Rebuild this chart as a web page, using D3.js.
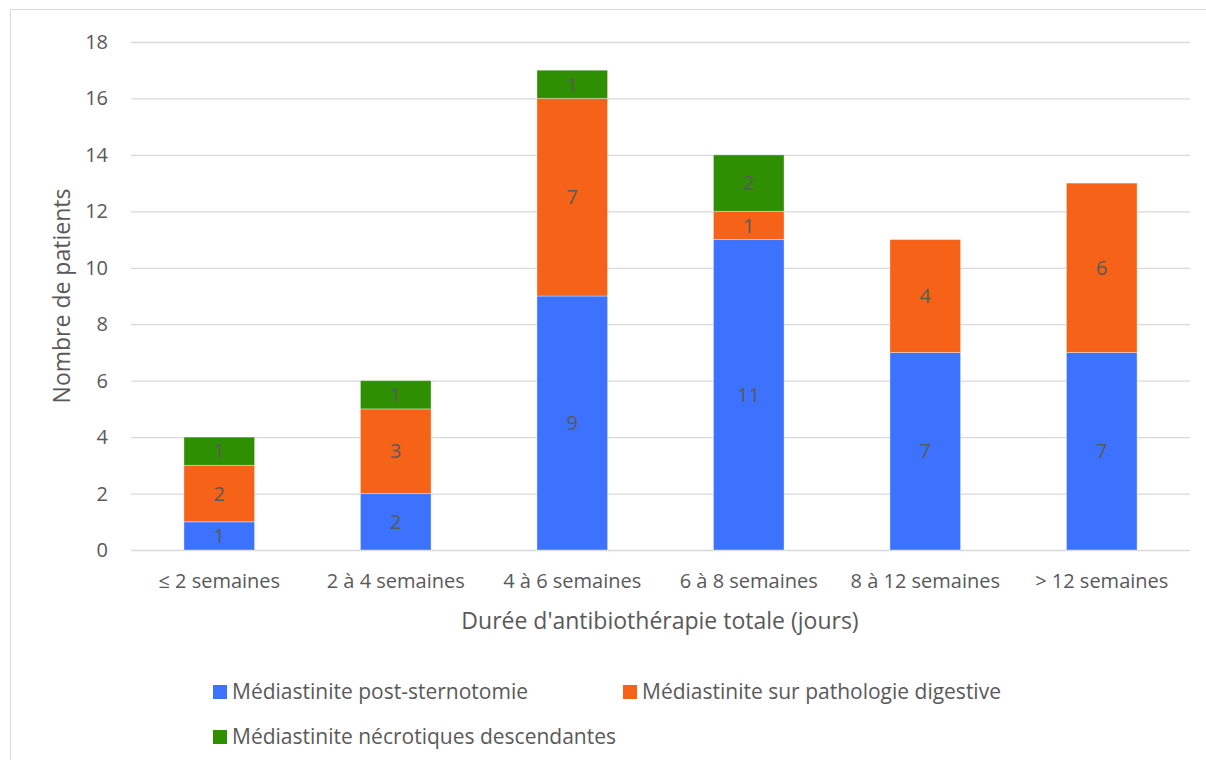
<!DOCTYPE html>
<html>
<head>
<meta charset="utf-8">
<script src="https://cdn.jsdelivr.net/npm/d3@7"></script>
<style>
  html, body { margin: 0; padding: 0; background: #fff; }
  svg { display: block; }
  text { font-family: "Open Sans", sans-serif; fill: #595959; }
</style>
</head>
<body>
<svg id="chart" width="1206" height="760"></svg>
<script>
// Durée d'antibiothérapie totale par type de médiastinite
const categories = ["≤ 2 semaines", "2 à 4 semaines", "4 à 6 semaines", "6 à 8 semaines", "8 à 12 semaines", "> 12 semaines"];
const seriesNames = ["Médiastinite post-sternotomie", "Médiastinite sur pathologie digestive", "Médiastinite nécrotiques descendantes"];
const postSternotomie = [1, 2, 9, 11, 7, 7];
const pathologieDigestive = [2, 3, 7, 1, 4, 6];
const necrotiquesDescendantes = [1, 1, 1, 2, 0, 0];
const yTicks = [0, 2, 4, 6, 8, 10, 12, 14, 16, 18];
const colors = ["#3D72FE", "#F66318", "#2E8F02"];

const svg = d3.select("#chart");

// outer frame
svg.append("rect").attr("x", 10.5).attr("y", 9.5).attr("width", 1210).attr("height", 760)
  .attr("fill", "none").attr("stroke", "#d9d9d9").attr("stroke-width", 1);

const margin = { left: 131, right: 1190, top: 42, bottom: 550 };
const x = d3.scaleBand().domain(categories).range([margin.left, margin.right]).paddingInner(0.6).paddingOuter(0.3);
const y = d3.scaleLinear().domain([0, 18]).range([margin.bottom, margin.top]);

// gridlines
svg.append("g").selectAll("line").data(yTicks).join("line")
  .attr("x1", margin.left).attr("x2", margin.right)
  .attr("y1", d => y(d) + 0.5).attr("y2", d => y(d) + 0.5)
  .attr("stroke", "#d9d9d9").attr("stroke-width", 1.3);

// y tick labels
svg.append("g").selectAll("text").data(yTicks).join("text")
  .attr("x", 108).attr("y", d => y(d)).attr("dy", "0.35em")
  .attr("text-anchor", "end").attr("font-size", 20).text(d => d);

// stacked data
const rows = categories.map((c, i) => ({
  cat: c, s0: postSternotomie[i], s1: pathologieDigestive[i], s2: necrotiquesDescendantes[i]
}));
const stack = d3.stack().keys(["s0", "s1", "s2"])(rows);

const layers = svg.append("g").selectAll("g").data(stack).join("g")
  .attr("fill", (d, i) => colors[i]);
layers.selectAll("rect").data(d => d.filter(p => p[1] - p[0] > 0)).join("rect")
  .attr("x", d => x(d.data.cat)).attr("width", x.bandwidth())
  .attr("y", d => y(d[1])).attr("height", d => y(d[0]) - y(d[1]))
  .attr("stroke", "#ffffff").attr("stroke-opacity", 0.35).attr("stroke-width", 1);

// value labels
layers.selectAll("text").data(d => d.filter(p => p[1] - p[0] > 0)).join("text")
  .attr("x", d => x(d.data.cat) + x.bandwidth() / 2)
  .attr("y", d => (y(d[0]) + y(d[1])) / 2).attr("dy", "0.36em")
  .attr("text-anchor", "middle").attr("font-size", 20).attr("fill", "#595959")
  .text(d => d[1] - d[0]);

// x tick labels
svg.append("g").selectAll("text").data(categories).join("text")
  .attr("x", d => x(d) + x.bandwidth() / 2).attr("y", 581).attr("dy", "0.35em")
  .attr("text-anchor", "middle").attr("font-size", 20).text(d => d);

// axis titles
svg.append("text").attr("x", 660).attr("y", 621).attr("dy", "0.35em")
  .attr("text-anchor", "middle").attr("font-size", 23)
  .text("Durée d'antibiothérapie totale (jours)");
svg.append("text").attr("transform", `translate(62,${(margin.top + margin.bottom) / 2}) rotate(-90)`)
  .attr("dy", "0.35em").attr("text-anchor", "middle").attr("font-size", 23)
  .text("Nombre de patients");

// legend
const legendPos = [[213, 692], [623, 692], [213, 737]];
const legend = svg.append("g").selectAll("g").data(seriesNames).join("g")
  .attr("transform", (d, i) => `translate(${legendPos[i][0]},${legendPos[i][1]})`);
legend.append("rect").attr("x", 0).attr("y", -7).attr("width", 14).attr("height", 14)
  .attr("fill", (d, i) => colors[i]);
legend.append("text").attr("x", 19).attr("y", 0).attr("dy", "0.35em")
  .attr("font-size", 21).text(d => d);
</script>
</body>
</html>
